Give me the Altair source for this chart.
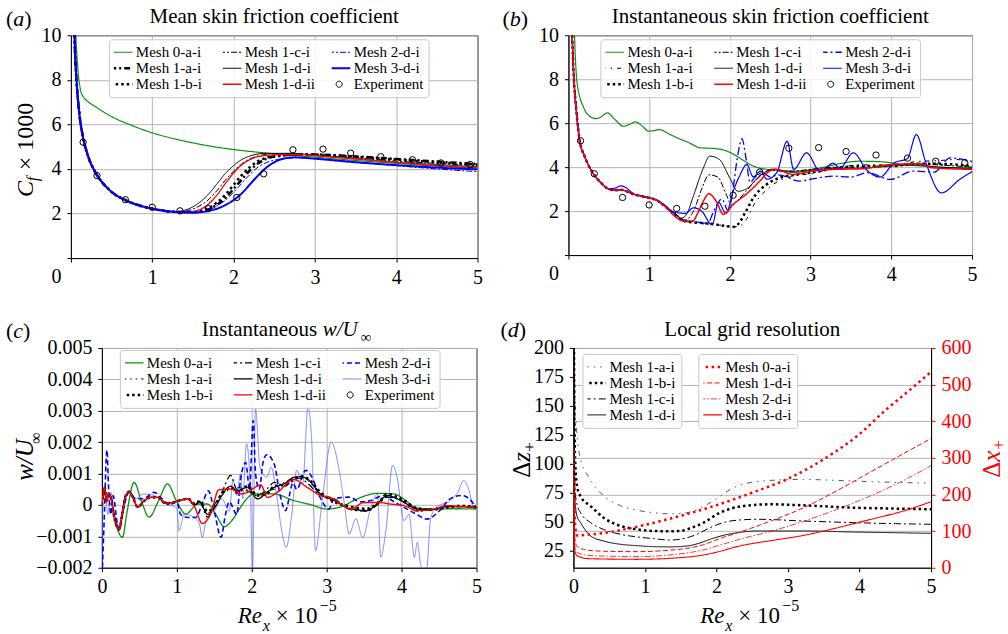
import altair as alt
import pandas as pd

FONT = "Liberation Serif"
GREEN = "#0f8f0f"
BLUE = "#0000ff"
LBLUE = "#5c6cff"
RED = "#ff0000"

# ---------------- experiment (panels a, b) ----------------
EXP_X = [0.15, 0.32, 0.67, 1.0, 1.34, 1.69, 2.04, 2.37, 2.73, 3.10, 3.44, 3.81, 4.20, 4.55, 4.91]
EXP_Y = [5.2, 3.7, 2.62, 2.28, 2.12, 2.22, 2.72, 3.78, 4.86, 4.89, 4.71, 4.55, 4.41, 4.27, 4.2]

# ---------------- panel (a): mean Cf x 1000 ----------------
A_LAM_X = [0.03, 0.05, 0.07, 0.1, 0.15, 0.2, 0.3, 0.4, 0.5, 0.7, 0.9, 1.1, 1.3]
A_LAM_Y = [12.0, 9.3, 7.9, 6.6, 5.4, 4.7, 3.85, 3.33, 2.97, 2.55, 2.3, 2.15, 2.07]
A_M0_X = [0.04, 0.06, 0.09, 0.12, 0.15, 0.2, 0.3, 0.5, 0.75, 1.0, 1.25, 1.5, 1.75, 2.0, 2.3, 2.6, 3.0, 3.5, 4.0, 4.5, 5.0]
A_M0_Y = [12.0, 10.0, 8.3, 7.5, 7.25, 7.05, 6.8, 6.35, 5.95, 5.62, 5.37, 5.17, 5.0, 4.87, 4.75, 4.65, 4.53, 4.38, 4.25, 4.13, 4.04]
A_1A_X = [1.5, 1.6, 1.7, 1.8, 1.9, 2.0, 2.1, 2.2, 2.3, 2.4, 2.6, 2.8, 3.0, 3.5, 4.0, 4.5, 5.0]
A_1A_Y = [2.06, 2.1, 2.2, 2.4, 2.7, 3.1, 3.52, 3.93, 4.24, 4.45, 4.6, 4.66, 4.65, 4.56, 4.45, 4.33, 4.22]
A_1B_X = [1.5, 1.6, 1.7, 1.8, 1.9, 2.0, 2.1, 2.2, 2.3, 2.4, 2.6, 2.8, 3.0, 3.5, 4.0, 4.5, 5.0]
A_1B_Y = [2.07, 2.12, 2.25, 2.5, 2.85, 3.28, 3.72, 4.08, 4.35, 4.5, 4.62, 4.66, 4.64, 4.55, 4.42, 4.3, 4.2]
A_1C_X = [1.4, 1.5, 1.6, 1.7, 1.8, 1.9, 2.0, 2.1, 2.2, 2.3, 2.5, 2.8, 3.0, 3.5, 4.0, 4.5, 5.0]
A_1C_Y = [2.1, 2.2, 2.38, 2.65, 3.05, 3.5, 3.9, 4.22, 4.45, 4.58, 4.68, 4.68, 4.62, 4.5, 4.35, 4.25, 4.15]
A_1D_X = [1.4, 1.5, 1.6, 1.7, 1.8, 1.9, 2.0, 2.1, 2.2, 2.4, 2.7, 3.0, 3.5, 4.0, 4.5, 5.0]
A_1D_Y = [2.15, 2.3, 2.55, 2.9, 3.35, 3.8, 4.15, 4.42, 4.58, 4.7, 4.7, 4.6, 4.45, 4.3, 4.2, 4.1]
A_1DII_X = [1.4, 1.5, 1.6, 1.7, 1.8, 1.9, 2.0, 2.1, 2.2, 2.3, 2.5, 2.8, 3.0, 3.5, 4.0, 4.5, 5.0]
A_1DII_Y = [2.06, 2.08, 2.2, 2.45, 2.85, 3.35, 3.82, 4.18, 4.42, 4.55, 4.63, 4.65, 4.6, 4.45, 4.3, 4.15, 4.05]
A_2D_X = [1.5, 1.6, 1.7, 1.8, 1.9, 2.0, 2.1, 2.2, 2.3, 2.4, 2.6, 2.8, 3.0, 3.5, 4.0, 4.5, 5.0]
A_2D_Y = [2.06, 2.08, 2.16, 2.35, 2.6, 2.95, 3.35, 3.75, 4.08, 4.28, 4.45, 4.5, 4.46, 4.32, 4.15, 4.0, 3.88]
A_3D_X = [1.5, 1.6, 1.7, 1.8, 1.9, 2.0, 2.1, 2.2, 2.3, 2.4, 2.5, 2.6, 2.75, 3.0, 3.5, 4.0, 4.5, 5.0]
A_3D_Y = [2.04, 2.06, 2.12, 2.22, 2.38, 2.6, 2.9, 3.3, 3.7, 4.05, 4.3, 4.45, 4.52, 4.46, 4.3, 4.17, 4.06, 3.98]

# ---------------- panel (b): instantaneous Cf x 1000 ----------------
B_LAM_X = [0.03, 0.06, 0.1, 0.14, 0.2, 0.3, 0.4, 0.5, 0.58, 0.65, 0.72, 0.8, 0.9, 1.0, 1.1, 1.2]
B_LAM_Y = [12.0, 8.6, 6.5, 5.2, 4.5, 3.75, 3.3, 3.0, 2.95, 2.97, 2.9, 2.78, 2.68, 2.6, 2.48, 2.2]
B_3D_LAM_Y = [12.0, 8.6, 6.5, 5.2, 4.5, 3.75, 3.3, 3.02, 3.05, 3.15, 3.05, 2.8, 2.7, 2.62, 2.5, 2.25]
B_M0_X = [0.06, 0.08, 0.11, 0.19, 0.27, 0.34, 0.41, 0.48, 0.58, 0.68, 0.76, 0.83, 0.92, 0.99, 1.06, 1.12, 1.25, 1.35,
          1.5, 1.63, 1.8, 1.95, 2.05, 2.15, 2.29, 2.46, 2.65, 2.85, 3.1, 3.35, 3.6, 3.85, 4.2, 4.6, 5.0]
B_M0_Y = [12.0, 9.5, 7.76, 6.7, 6.3, 6.21, 6.3, 6.47, 6.15, 5.86, 5.95, 6.06, 5.85, 5.64, 5.66, 5.71, 5.5, 5.33,
          5.1, 4.88, 4.85, 4.75, 4.58, 4.35, 4.05, 3.9, 3.85, 3.82, 3.95, 4.15, 4.27, 4.25, 4.1, 4.0, 3.95]
B_1A_X = [1.3, 1.4, 1.5, 1.7, 1.9, 2.0, 2.1, 2.2, 2.3, 2.45, 2.62, 2.8, 3.0, 3.3, 3.6, 4.0, 4.3, 4.6, 4.8, 5.0]
B_1A_Y = [1.9, 1.6, 1.5, 1.45, 1.35, 1.3, 1.3, 1.6, 2.3, 2.95, 3.4, 3.6, 3.7, 3.95, 4.1, 4.1, 4.25, 4.3, 4.35, 4.2]
B_1B_X = [1.3, 1.4, 1.5, 1.7, 1.9, 2.0, 2.05, 2.1, 2.2, 2.29, 2.45, 2.62, 2.8, 3.0, 3.3, 3.6, 4.0, 4.3, 4.6, 5.0]
B_1B_Y = [1.9, 1.6, 1.5, 1.45, 1.35, 1.3, 1.28, 1.4, 2.0, 2.6, 3.2, 3.52, 3.65, 3.75, 3.95, 4.05, 4.05, 4.15, 4.15, 4.05]
B_1C_X = [1.3, 1.45, 1.55, 1.65, 1.74, 1.85, 1.95, 2.02, 2.1, 2.2, 2.35, 2.5, 2.7, 3.0, 3.3, 3.6, 4.0, 4.3, 4.6, 5.0]
B_1C_Y = [1.95, 1.6, 2.0, 3.0, 3.65, 3.55, 2.8, 2.3, 2.5, 2.9, 3.5, 3.85, 3.8, 3.9, 4.0, 4.0, 4.1, 4.15, 4.1, 4.0]
B_1D_X = [1.3, 1.4, 1.47, 1.54, 1.67, 1.75, 1.87, 2.0, 2.1, 2.2, 2.37, 2.53, 2.78, 3.0, 3.3, 3.6, 4.0, 4.3, 4.6, 5.0]
B_1D_Y = [1.95, 1.68, 1.9, 2.6, 3.95, 4.5, 4.35, 3.5, 2.9, 3.0, 3.6, 3.91, 3.76, 3.85, 3.95, 3.95, 4.05, 4.1, 4.0, 3.95]
B_1DII_X = [1.34, 1.42, 1.54, 1.6, 1.67, 1.74, 1.83, 1.92, 2.04, 2.2, 2.37, 2.49, 2.57, 2.78, 3.03, 3.28, 3.6, 4.02,
            4.35, 4.51, 5.0]
B_1DII_Y = [1.7, 1.55, 1.55, 1.9, 2.45, 2.79, 2.45, 1.85, 2.3, 2.76, 3.36, 3.82, 3.9, 3.67, 3.82, 3.9, 3.92, 4.12,
            4.15, 3.97, 3.9]
B_2D_X = [1.3, 1.45, 1.6, 1.72, 1.8, 1.9, 1.98, 2.03, 2.1, 2.15, 2.2, 2.25, 2.3, 2.4, 2.5, 2.6, 2.87, 3.0, 3.28,
          3.5, 3.7, 3.99, 4.27, 4.53, 4.73, 5.0]
B_2D_Y = [1.95, 1.55, 1.5, 1.4, 2.0, 2.55, 2.0, 2.8, 4.6, 5.3, 4.4, 3.3, 3.5, 3.75, 3.55, 3.65, 3.36, 3.45, 3.59,
          3.55, 3.75, 3.44, 3.82, 3.77, 4.42, 4.26]
B_3D_X = [1.3, 1.45, 1.55, 1.65, 1.78, 1.86, 1.95, 2.05, 2.12, 2.21, 2.29, 2.38, 2.46, 2.58, 2.71, 2.79, 2.95, 3.12,
          3.28, 3.36, 3.53, 3.7, 3.86, 4.03, 4.2, 4.31, 4.43, 4.62, 4.85, 5.0]
B_3D_Y = [1.95, 1.9, 2.15, 2.0, 1.38, 2.4, 1.9, 3.0, 3.6, 4.12, 3.56, 3.82, 3.45, 3.75, 5.18, 3.9, 4.65, 3.8,
          4.18, 3.95, 4.65, 3.85, 3.55, 4.18, 4.4, 5.48, 4.18, 2.83, 3.45, 3.8]

# ---------------- panel (c): w/U_inf (units of 1e-3) ----------------
C_E_X = [0.0, 0.02, 0.04, 0.06, 0.09, 0.12, 0.15, 0.19, 0.23, 0.27, 0.32, 0.37, 0.42, 0.48, 0.55, 0.65, 0.75, 0.85,
         0.95, 1.05, 1.15]
C_E_Y = [0.0, 0.4, 0.55, 0.1, 0.35, 0.25, -0.2, -0.6, -0.77, -0.3, 0.3, 0.42, 0.2, -0.07, 0.1, 0.24, 0.24, 0.05,
         0.08, 0.15, 0.2]
C_1DII_X = [1.23, 1.34, 1.45, 1.56, 1.72, 1.85, 1.94, 2.12, 2.21, 2.34, 2.56, 2.74, 2.92, 3.05, 3.19, 3.32, 3.5,
            3.68, 3.85, 4.03, 4.21, 4.43, 4.61, 4.79, 4.99]
C_1DII_Y = [-0.02, -0.59, -0.29, 0.48, 0.51, 0.35, 0.4, 0.64, 0.24, 0.40, 0.81, 0.56, 0.30, 0.24, 0.03, -0.13, 0.08,
            0.08, 0.03, -0.02, -0.18, -0.13, -0.02, -0.05, -0.07]
C_BLK_X = [1.23, 1.3, 1.41, 1.5, 1.6, 1.72, 1.8, 1.94, 2.08, 2.2, 2.3, 2.45, 2.56, 2.65, 2.74, 2.92, 3.1, 3.32, 3.54,
           3.7, 3.81, 3.99, 4.21, 4.4, 4.6, 4.8, 5.0]
C_1D_Y = [0.0, 0.1, -0.3, -0.1, 0.3, 0.6, 0.45, 0.56, 0.19, 0.4, 0.56, 0.7, 0.88, 0.9, 0.83, 0.35, 0.14, -0.13, -0.18,
          0.1, 0.3, 0.14, -0.13, -0.15, -0.05, -0.05, -0.08]
C_1C_Y = [0.0, 0.15, -0.39, 0.0, 0.4, 0.94, 0.5, 0.45, 0.3, 0.5, 0.72, 0.6, 0.85, 0.85, 0.7, 0.3, 0.2, -0.15, -0.2,
          0.05, 0.25, 0.15, -0.2, -0.15, -0.05, -0.05, -0.1]
C_1B_Y = [0.05, 0.1, -0.2, -0.05, 0.35, 0.55, 0.4, 0.6, 0.3, 0.35, 0.6, 0.65, 0.8, 0.9, 0.85, 0.4, 0.1, -0.05, -0.12,
          0.1, 0.35, 0.2, -0.1, -0.15, -0.08, -0.03, -0.06]
C_1A_Y = [0.0, 0.05, -0.25, -0.1, 0.3, 0.5, 0.55, 0.5, 0.2, 0.45, 0.5, 0.75, 0.85, 0.95, 0.8, 0.3, 0.15, -0.1, -0.15,
          0.05, 0.25, 0.2, -0.15, -0.12, -0.05, -0.05, -0.1]
C_M0_X = [0.0, 0.03, 0.06, 0.1, 0.15, 0.2, 0.276, 0.33, 0.43, 0.53, 0.63, 0.75, 0.875, 1.0, 1.12, 1.28, 1.41, 1.52,
          1.63, 1.75, 1.85, 2.03, 2.3, 2.56, 2.8, 3.0, 3.2, 3.36, 3.5, 3.68, 3.9, 4.05, 4.17, 4.3, 4.43, 4.7, 4.99]
C_M0_Y = [0.0, 0.4, 0.2, 0.3, -0.1, -0.7, -1.03, -0.3, 0.72, 0.1, -0.39, 0.1, 0.67, 0.1, -0.29, 0.03, 0.03, -0.3,
          -0.69, -0.45, -0.07, 0.35, 0.35, 0.14, 0.0, -0.13, -0.05, 0.14, 0.28, 0.37, 0.35, 0.15, -0.07, -0.12, -0.13,
          -0.12, -0.13]
C_2D_X = [0.0, 0.03, 0.067, 0.09, 0.12, 0.15, 0.2, 0.23, 0.3, 0.36, 0.45, 0.55, 0.7, 0.8, 0.9, 1.0, 1.05, 1.15, 1.25,
          1.35, 1.42, 1.5, 1.59, 1.65, 1.7, 1.8, 1.85, 1.92, 1.97, 2.02, 2.05, 2.1, 2.15, 2.2, 2.3, 2.38, 2.45, 2.55,
          2.6, 2.72, 2.8, 2.9, 3.03, 3.1, 3.3, 3.45, 3.6, 3.75, 3.9, 4.05, 4.2, 4.34, 4.5, 4.65, 4.8, 4.9, 5.0]
C_2D_Y = [-2.5, -0.5, 1.75, 0.5, -0.3, 0.3, -0.5, -0.8, 0.0, 0.4, 0.2, 0.2, 0.4, 0.2, 0.0, 0.1, -0.3, -0.4, -0.4,
          0.1, 0.45, -0.2, -1.03, -0.3, 0.1, -0.3, 0.8, 1.35, 0.5, 2.69, 1.0, 0.5, 1.35, 1.6, 1.3, 0.3, -0.18, 0.7,
          0.5, 1.1, 0.9, 0.3, -0.13, 0.2, 0.25, 0.1, 0.15, 0.3, 0.1, -0.1, -0.3, -0.45, -0.2, 0.2, 0.3, 0.2, -0.1]
C_3D_X = [0.0, 0.02, 0.05, 0.08, 0.12, 0.17, 0.23, 0.3, 0.36, 0.45, 0.55, 0.7, 0.8, 0.9, 1.0, 1.03, 1.1, 1.2, 1.3,
          1.34, 1.4, 1.5, 1.6, 1.7, 1.75, 1.8, 1.85, 1.88, 1.93, 1.98, 2.01, 2.05, 2.11, 2.2, 2.26, 2.33, 2.4, 2.46,
          2.53, 2.6, 2.68, 2.75, 2.8, 2.85, 2.94, 3.06, 3.16, 3.23, 3.3, 3.39, 3.48, 3.59, 3.68, 3.72, 3.79, 3.88,
          3.94, 4.03, 4.1, 4.17, 4.21, 4.26, 4.33, 4.39, 4.47, 4.65, 4.75, 4.83, 4.9, 4.96, 5.0]
C_3D_Y = [-2.5, 0.5, 0.3, -0.3, 0.4, -0.6, -0.8, 0.2, 0.45, 0.2, 0.35, 0.3, 0.1, 0.0, -0.1, -0.82, -0.3, -0.35, -0.6,
          -1.03, -0.4, -0.2, 0.2, -0.2, 0.8, 0.3, 1.0, 0.2, 1.95, 0.6, -2.1, 3.07, 1.2, 0.88, 1.2, 0.35, -0.82, -1.35,
          -0.39, 1.1, 0.67, 3.12, 2.05, -1.46, 0.14, 2.0, 1.2, 0.14, -0.93, -0.44, -1.03, -0.07, 0.35, -1.67, -0.82,
          1.26, 0.88, -0.5, -0.3, -1.67, -1.19, -1.95, -2.1, -0.4, -0.07, 0.14, 0.4, 0.78, 0.46, -0.07, 0.0]

# ---------------- panel (d): grid resolution ----------------
D_1A_X = [0.005, 0.02, 0.05, 0.1, 0.2, 0.38, 0.66, 0.9, 1.12, 1.35, 1.59, 1.75, 1.91, 2.05, 2.19, 2.4, 2.66, 3.0,
          3.22, 3.6, 3.92, 4.3, 4.61, 5.0]
D_1A_Y = [230, 160, 125, 104, 90, 75, 64, 60, 58, 57, 58, 61, 66.6, 72, 78, 83, 85.3, 86.5, 86.7, 86, 85.3, 84.5,
          83.9, 83.5]
D_1B_X = [0.005, 0.02, 0.05, 0.1, 0.24, 0.42, 0.66, 0.89, 1.12, 1.35, 1.49, 1.65, 1.82, 2.05, 2.2, 2.38, 2.75, 3.22,
          3.6, 3.92, 4.5, 5.0]
D_1B_Y = [230, 110, 81, 72, 63.7, 53.7, 46.5, 43.6, 42.2, 42, 42.2, 45, 49.4, 58, 61.5, 63.7, 65.2, 64.3, 63.2, 62.3,
          61.5, 60.9]
D_1C_X = [0.005, 0.02, 0.05, 0.1, 0.24, 0.42, 0.66, 0.9, 1.12, 1.35, 1.59, 1.75, 1.91, 2.05, 2.19, 2.57, 3.22, 3.92,
          4.5, 5.0]
D_1C_Y = [230, 80, 65, 58, 49.4, 43.6, 39.3, 37, 35.6, 34.4, 36.4, 40, 45.1, 48.5, 50.8, 52.3, 50.8, 49.4, 48.5, 48]
D_1D_X = [0.005, 0.02, 0.05, 0.1, 0.24, 0.42, 0.66, 0.9, 1.12, 1.35, 1.59, 1.75, 1.91, 2.1, 2.29, 2.57, 3.22, 3.92,
          4.5, 5.0]
D_1D_Y = [230, 70, 55, 49.4, 37.9, 33.6, 30.7, 29.5, 28.7, 28.5, 29.3, 31.5, 35, 38.5, 40.7, 42.2, 42.2, 41.3, 40.7,
          40.2]
D_X0A_X = [0.005, 0.02, 0.05, 0.2, 0.5, 0.84, 1.35, 2.05, 2.5, 3.0, 3.64, 4.0, 4.35, 4.7, 5.0]
D_X0A_Y = [320, 130, 88, 90, 97, 110, 134, 174, 205, 243, 314, 365, 428, 485, 535]
D_XR_X = [0.005, 0.02, 0.05, 0.2, 0.42, 0.89, 1.35, 1.82, 2.05, 2.29, 2.75, 3.22, 3.68, 4.15, 4.61, 5.0]
D_X1D_Y = [250, 80, 58, 48, 45, 44, 48, 63, 80, 95, 127, 164, 210, 261, 311, 353]
D_X2D_Y = [200, 60, 42, 34, 32, 30.4, 35, 49, 62, 76, 99, 127, 159, 196, 238, 279]
D_X3D_Y = [150, 45, 33, 25, 23.9, 23, 25.8, 35, 45, 58, 73.7, 88.4, 108.7, 131.7, 154.7, 180]

LEG_ORDER = ["Mesh 0-a-i", "Mesh 1-a-i", "Mesh 1-b-i", "Mesh 1-c-i", "Mesh 1-d-i", "Mesh 1-d-ii",
             "Mesh 2-d-i", "Mesh 3-d-i", "Experiment"]
CIRCLE = "M0.27,0A0.27,0.27,0,1,1,-0.27,0A0.27,0.27,0,1,1,0.27,0Z"


def frame(items, field="series"):
    rows = []
    for name, xs, ys, w in items:
        for x, y in zip(xs, ys):
            rows.append({field: name, "x": x, "y": y, "w": w})
    return pd.DataFrame(rows)


def legend(lx, ly, cols, domain, widths, experiment=False):
    expr = "1"
    for n, w in zip(domain, widths):
        if w != 1:
            expr = "datum.value === '%s' ? %s : (%s)" % (n, w, expr)
    kw = dict(title=None, orient="none", legendX=lx, legendY=ly, columns=cols, values=domain,
              symbolSize=500, labelFont=FONT, labelFontSize=15,
              labelColor="black", labelOffset=7, columnPadding=16, rowPadding=0,
              clipHeight=16, padding=5, fillColor="rgba(255,255,255,0.85)",
              strokeColor="#c8c8c8", cornerRadius=3, gridAlign="all",
              symbolFillColor="transparent",
              symbolStrokeWidth=alt.ExprRef(expr))
    if experiment:
        kw["symbolType"] = alt.ExprRef("datum.value === 'Experiment' ? '%s' : 'stroke'" % CIRCLE)
    else:
        kw["symbolType"] = "stroke"
    return alt.Legend(**kw)


def lines(df, field, domain, colors, dashes, leg, xs, ys, xaxis, yaxis):
    return alt.Chart(df).mark_line(clip=True, interpolate="monotone").encode(
        x=alt.X("x:Q", scale=xs, axis=xaxis),
        y=alt.Y("y:Q", scale=ys, axis=yaxis),
        color=alt.Color(field + ":N", scale=alt.Scale(domain=domain, range=colors), legend=leg),
        strokeDash=alt.StrokeDash(field + ":N", scale=alt.Scale(domain=domain, range=dashes), legend=leg),
        strokeWidth=alt.StrokeWidth("w:Q", scale=None, legend=None),
    )


def txt(s, x, y, size=20, style="normal", angle=0, align="left", color="black"):
    return alt.Chart(pd.DataFrame({"t": [s]})).mark_text(
        font=FONT, fontSize=size, fontStyle=style, angle=angle, align=align,
        baseline="alphabetic", color=color).encode(text="t:N", x=alt.value(x), y=alt.value(y))


def letter(ch, x, y, w=11):
    return [txt("(", x, y, 22), txt(ch, x + 7.3, y, 22, "italic"), txt(")", x + 7.3 + w, y, 22)]


XS = alt.Scale(domain=[0, 5], nice=False, zero=False)
X_AB = alt.Axis(values=[0, 1, 2, 3, 4, 5], labelExpr="datum.value == 0 ? '' : format(datum.value, 'd')",
                title=None, grid=True, labelPadding=5)
Y_AB = alt.Axis(values=[0, 2, 4, 6, 8, 10], title=None, grid=True, labelPadding=6,
                labelOffset={"condition": {"test": "datum.value == 0", "value": 18}, "value": 0})
YS_AB = alt.Scale(domain=[0, 10], nice=False)

# ---------- panel a ----------
COL_A = {"Mesh 0-a-i": GREEN, "Mesh 1-a-i": "black", "Mesh 1-b-i": "black", "Mesh 1-c-i": "black",
         "Mesh 1-d-i": "black", "Mesh 1-d-ii": RED, "Mesh 2-d-i": BLUE, "Mesh 3-d-i": BLUE, "Experiment": "black"}
DASH_A = {"Mesh 0-a-i": [1, 0], "Mesh 1-a-i": [6, 3, 2, 3], "Mesh 1-b-i": [2.5, 3], "Mesh 1-c-i": [6, 2, 2, 2],
          "Mesh 1-d-i": [1, 0], "Mesh 1-d-ii": [1, 0], "Mesh 2-d-i": [6, 2, 2, 2], "Mesh 3-d-i": [1, 0],
          "Experiment": [1, 0]}
W_A = {"Mesh 0-a-i": 1.2, "Mesh 1-a-i": 2.5, "Mesh 1-b-i": 2.5, "Mesh 1-c-i": 1, "Mesh 1-d-i": 1,
       "Mesh 1-d-ii": 1.3, "Mesh 2-d-i": 1, "Mesh 3-d-i": 2, "Experiment": 1}
df_a = frame([
    ("Mesh 0-a-i", A_M0_X, A_M0_Y, W_A["Mesh 0-a-i"]),
    ("Mesh 1-a-i", A_LAM_X + A_1A_X, A_LAM_Y + A_1A_Y, W_A["Mesh 1-a-i"]),
    ("Mesh 1-b-i", A_LAM_X + A_1B_X, A_LAM_Y + A_1B_Y, W_A["Mesh 1-b-i"]),
    ("Mesh 1-c-i", A_LAM_X + A_1C_X, A_LAM_Y + A_1C_Y, W_A["Mesh 1-c-i"]),
    ("Mesh 1-d-i", A_LAM_X + A_1D_X, A_LAM_Y + A_1D_Y, W_A["Mesh 1-d-i"]),
    ("Mesh 1-d-ii", A_LAM_X + A_1DII_X, A_LAM_Y + A_1DII_Y, W_A["Mesh 1-d-ii"]),
    ("Mesh 2-d-i", A_LAM_X + A_2D_X, A_LAM_Y + A_2D_Y, W_A["Mesh 2-d-i"]),
    ("Mesh 3-d-i", A_LAM_X + A_3D_X, A_LAM_Y + A_3D_Y, W_A["Mesh 3-d-i"]),
])
exp_df = pd.DataFrame({"x": EXP_X, "y": EXP_Y})
lay_a = lines(df_a, "series", LEG_ORDER, [COL_A[n] for n in LEG_ORDER], [DASH_A[n] for n in LEG_ORDER],
              legend(38, 4, 3, LEG_ORDER, [W_A[n] for n in LEG_ORDER], True), XS, YS_AB, X_AB, Y_AB)
pts = alt.Chart(exp_df).mark_point(shape="circle", filled=False, size=40, color="black", strokeWidth=1,
                                   opacity=1).encode(x=alt.X("x:Q", scale=XS), y=alt.Y("y:Q", scale=YS_AB))
panel_a = alt.layer(
    lay_a, pts,
    txt("Mean skin friction coefficient", 203.5, -12, 21, align="center"),
    *letter("a", -65, -9),
    txt("C", -38, 162, 24, "italic", 270),
    txt("f", -33, 146, 16, "italic", 270),
    txt("× 1000", -38, 135, 24, "normal", 270),
).properties(width=407, height=223)

# ---------- panel b ----------
DASH_B = dict(DASH_A)
DASH_B.update({"Mesh 1-a-i": [4, 5, 1.5, 5], "Mesh 2-d-i": [8, 3, 2, 3]})
W_B = dict(W_A)
W_B.update({"Mesh 1-a-i": 1, "Mesh 1-d-ii": 1.5, "Mesh 2-d-i": 1.3, "Mesh 3-d-i": 1.2})
df_b = frame([
    ("Mesh 0-a-i", B_M0_X, B_M0_Y, W_B["Mesh 0-a-i"]),
    ("Mesh 1-a-i", B_LAM_X + B_1A_X, B_LAM_Y + B_1A_Y, W_B["Mesh 1-a-i"]),
    ("Mesh 1-b-i", B_LAM_X + B_1B_X, B_LAM_Y + B_1B_Y, W_B["Mesh 1-b-i"]),
    ("Mesh 1-c-i", B_LAM_X + B_1C_X, B_LAM_Y + B_1C_Y, W_B["Mesh 1-c-i"]),
    ("Mesh 1-d-i", B_LAM_X + B_1D_X, B_LAM_Y + B_1D_Y, W_B["Mesh 1-d-i"]),
    ("Mesh 2-d-i", B_LAM_X + B_2D_X, B_LAM_Y + B_2D_Y, W_B["Mesh 2-d-i"]),
    ("Mesh 3-d-i", B_LAM_X + B_3D_X, B_3D_LAM_Y + B_3D_Y, W_B["Mesh 3-d-i"]),
    ("Mesh 1-d-ii", B_LAM_X + B_1DII_X, B_LAM_Y + B_1DII_Y, W_B["Mesh 1-d-ii"]),
])
lay_b = lines(df_b, "series", LEG_ORDER, [COL_A[n] for n in LEG_ORDER], [DASH_B[n] for n in LEG_ORDER],
              legend(32, 4, 3, LEG_ORDER, [W_B[n] for n in LEG_ORDER], True), XS, YS_AB, X_AB, Y_AB)
panel_b = alt.layer(
    lay_b, pts,
    txt("Instantaneous skin friction coefficient", 202, -12, 21, align="center"),
    *letter("b", -66, -9),
).properties(width=404, height=220)

# ---------- panel c ----------
COL_C = dict(COL_A)
COL_C["Mesh 3-d-i"] = LBLUE
DASH_C = dict(DASH_A)
DASH_C.update({"Mesh 1-a-i": [5, 4, 1.5, 4, 1.5, 4], "Mesh 1-c-i": [7, 3, 2, 3], "Mesh 2-d-i": [5, 3]})
W_C = {"Mesh 0-a-i": 1.3, "Mesh 1-a-i": 1, "Mesh 1-b-i": 2.5, "Mesh 1-c-i": 1.2, "Mesh 1-d-i": 1.2,
       "Mesh 1-d-ii": 1.4, "Mesh 2-d-i": 1.6, "Mesh 3-d-i": 0.8, "Experiment": 1}
df_c = frame([
    ("Mesh 3-d-i", C_3D_X, C_3D_Y, W_C["Mesh 3-d-i"]),
    ("Mesh 0-a-i", C_M0_X, C_M0_Y, W_C["Mesh 0-a-i"]),
    ("Mesh 2-d-i", C_2D_X, C_2D_Y, W_C["Mesh 2-d-i"]),
    ("Mesh 1-a-i", C_E_X + C_BLK_X, C_E_Y + C_1A_Y, W_C["Mesh 1-a-i"]),
    ("Mesh 1-b-i", C_E_X + C_BLK_X, C_E_Y + C_1B_Y, W_C["Mesh 1-b-i"]),
    ("Mesh 1-c-i", C_E_X + C_BLK_X, C_E_Y + C_1C_Y, W_C["Mesh 1-c-i"]),
    ("Mesh 1-d-i", C_E_X + C_BLK_X, C_E_Y + C_1D_Y, W_C["Mesh 1-d-i"]),
    ("Mesh 1-d-ii", C_E_X + C_1DII_X, C_E_Y + C_1DII_Y, W_C["Mesh 1-d-ii"]),
])
X_CD = alt.Axis(values=[0, 1, 2, 3, 4, 5], title=None, grid=True, labelPadding=5)
Y_C = alt.Axis(values=[-2, -1, 0, 1, 2, 3, 4, 5], title=None, grid=True, labelPadding=6,
               labelExpr="datum.value == 0 ? '0' : format(datum.value / 1000, '.3f')")
lay_c = lines(df_c, "series", LEG_ORDER, [COL_C[n] for n in LEG_ORDER], [DASH_C[n] for n in LEG_ORDER],
              legend(18, 2, 3, LEG_ORDER, [W_C[n] for n in LEG_ORDER], True), XS,
              alt.Scale(domain=[-2, 5], nice=False), X_CD, Y_C)


def re_title(x0):
    return [txt("Re", x0, 275, 23, "italic"), txt("x", x0 + 25, 283, 16, "italic"),
            txt("× 10", x0 + 38, 275, 23), txt("−5", x0 + 82, 263, 16)]


panel_c = alt.layer(
    lay_c,
    txt("Instantaneous", 100, -12, 21),
    txt("w/U", 221, -12, 21, "italic"),
    txt("∞", 259, -6, 15),
    *letter("c", -96, -10, 9.8),
    txt("w/U", -69, 133, 25, "italic", 270),
    txt("∞", -61, 96, 16, "normal", 270),
    *re_title(136),
).properties(width=375, height=220)

# ---------- panel d ----------
DZ_DOM = ["Mesh 1-a-i", "Mesh 1-b-i", "Mesh 1-c-i", "Mesh 1-d-i"]
DZ_COL = ["#555555", "black", "black", "black"]
DZ_DASH = [[5, 5, 1.5, 5, 1.5, 5], [2.5, 3], [7, 3, 2, 3], [1, 0]]
DZ_W = [1, 2.5, 1, 1]
DX_DOM = ["Mesh 0-a-i", "Mesh 1-d-i", "Mesh 2-d-i", "Mesh 3-d-i"]
DX_COL = [RED, RED, RED, RED]
DX_DASH = [[2.5, 3.5], [5, 2.5], [6, 2, 1.5, 2], [1, 0]]
DX_W = [2.5, 1, 0.8, 1.1]
df_dz = frame([
    ("Mesh 1-a-i", D_1A_X, D_1A_Y, DZ_W[0]),
    ("Mesh 1-b-i", D_1B_X, D_1B_Y, DZ_W[1]),
    ("Mesh 1-c-i", D_1C_X, D_1C_Y, DZ_W[2]),
    ("Mesh 1-d-i", D_1D_X, D_1D_Y, DZ_W[3]),
], field="zser")
df_dx = frame([
    ("Mesh 0-a-i", D_X0A_X, D_X0A_Y, DX_W[0]),
    ("Mesh 1-d-i", D_XR_X, D_X1D_Y, DX_W[1]),
    ("Mesh 2-d-i", D_XR_X, D_X2D_Y, DX_W[2]),
    ("Mesh 3-d-i", D_XR_X, D_X3D_Y, DX_W[3]),
], field="xser")
X_D = alt.Axis(values=[0, 1, 2, 3, 4, 5], title=None, grid=False, labelPadding=5)
YL_D = alt.Axis(values=[25, 50, 75, 100, 125, 150, 175, 200], title=None, grid=False, labelPadding=6)
YR_D = alt.Axis(orient="right", values=[0, 100, 200, 300, 400, 500, 600], title=None, grid=True, labelPadding=6,
                labelColor=RED, tickColor=RED)
lay_dz = lines(df_dz, "zser", DZ_DOM, DZ_COL, DZ_DASH, legend(9, 6, 1, DZ_DOM, DZ_W), XS,
               alt.Scale(domain=[10.5, 200], nice=False, zero=False), X_D, YL_D)
lay_dx = lines(df_dx, "xser", DX_DOM, DX_COL, DX_DASH, legend(125, 6, 1, DX_DOM, DX_W), XS,
               alt.Scale(domain=[0, 600], nice=False), X_D, YR_D)
panel_d = alt.layer(
    lay_dz, lay_dx,
    txt("Local grid resolution", 179, -12, 21, align="center"),
    *letter("d", -73, -11),
    txt("Δ", -43, 130, 25, "normal", 270),
    txt("z", -43, 114, 25, "italic", 270),
    txt("+", -38, 104, 17, "normal", 270),
    txt("Δ", 427, 130, 25, "normal", 270, color=RED),
    txt("x", 427, 114, 25, "italic", 270, color=RED),
    txt("+", 431, 102, 17, "normal", 270, color=RED),
    *re_title(127),
).resolve_scale(y="independent", color="independent", strokeDash="independent").resolve_legend(
    color="independent", strokeDash="independent").properties(width=358, height=220)


def gap(w):
    # invisible layout cell that only reserves horizontal room between panels
    return alt.Chart(pd.DataFrame({"v": [0]})).mark_point(opacity=0).encode(
        x=alt.X("v:Q", axis=None), y=alt.Y("v:Q", axis=None)).properties(
        width=w, height=1, view=alt.ViewBackground(stroke="transparent"))


def indep(ch):
    return ch.resolve_scale(x="independent", y="independent", color="independent",
                            strokeDash="independent").resolve_legend(color="independent", strokeDash="independent")


row1 = indep(alt.hconcat(panel_a, gap(89), panel_b, spacing=1, bounds="flush"))
row2 = indep(alt.hconcat(gap(30), panel_c, gap(95), panel_d, spacing=1, bounds="flush"))
chart = indep(alt.vconcat(row1, row2, spacing=30)).properties(
    padding={"left": 5, "top": 5, "right": 0, "bottom": 0}
).configure_view(stroke="black", strokeWidth=1).configure_axis(
    labelFont=FONT, labelFontSize=20, labelColor="black", domainColor="black", domainWidth=1,
    tickColor="black", tickSize=4, gridColor="#b4b4b4", gridWidth=1, labelFlush=False, labelOverlap=False
)

chart.save("out.html", embed_options={"renderer": "svg", "actions": False})
